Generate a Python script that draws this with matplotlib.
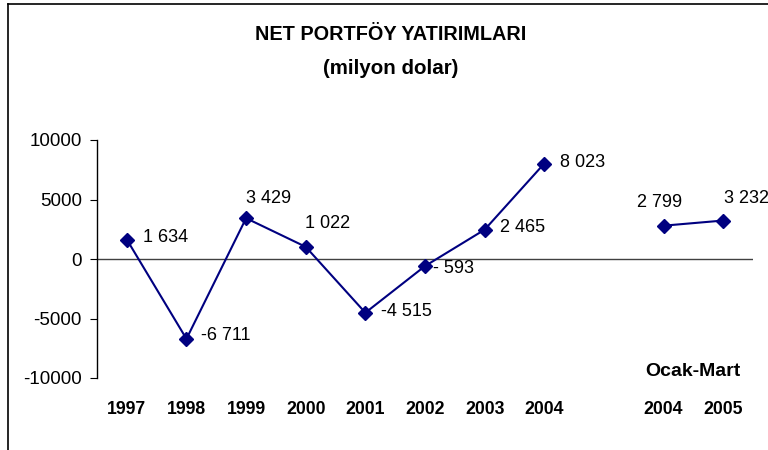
import matplotlib
matplotlib.use("Agg")
import matplotlib.pyplot as plt
from matplotlib.lines import Line2D

plt.rcParams['font.family'] = ['Liberation Sans', 'DejaVu Sans']
plt.rcParams['axes.unicode_minus'] = False

# Données (milyon dolar)
yillar = ["1997", "1998", "1999", "2000", "2001", "2002", "2003", "2004"]
yillik_deger = [1634, -6711, 3429, 1022, -4515, -593, 2465, 8023]
ceyrek_yillar = ["2004", "2005"]
ceyrek_deger = [2799, 3232]
yillik_etiket = ["1 634", "-6 711", "3 429", "1 022", "-4 515", "- 593", "2 465", "8 023"]
ceyrek_etiket = ["2 799", "3 232"]

# offsets of labels in pixels (dx, dy, ha)
yillik_ofset = [(16, 2, "left"), (15, 3, "left"), (0, 20, "left"), (-1, 23, "left"),
                (16, 1, "left"), (8, -2, "left"), (15, 2, "left"), (16, 1, "left")]
ceyrek_ofset = [(-4, 23, "center"), (1, 22, "left")]

renk = "#000080"

fig = plt.figure(figsize=(7.68, 4.5), dpi=100)
ax = fig.add_axes([97 / 768, 1 - 378 / 450, 656 / 768, 238 / 450])

x1 = list(range(len(yillik_deger)))
x2 = [len(yillik_deger) + 1 + i for i in range(len(ceyrek_deger))]

ax.plot(x1, yillik_deger, color=renk, lw=1.5, marker="D", markersize=7, zorder=3)
ax.plot(x2, ceyrek_deger, color=renk, lw=1.5, marker="D", markersize=7, zorder=3)

for xi, yi, lab, (dx, dy, ha) in zip(x1 + x2, yillik_deger + ceyrek_deger,
                                     yillik_etiket + ceyrek_etiket, yillik_ofset + ceyrek_ofset):
    ax.annotate(lab, (xi, yi), xytext=(dx, dy), textcoords="offset pixels",
                ha=ha, va="center", fontsize=13, color="black")

ax.axhline(0, color="#404040", lw=1, zorder=1)
ax.set_xlim(-0.5, 10.5)
ax.set_ylim(-10000, 10000)
ax.set_yticks([-10000, -5000, 0, 5000, 10000])
ax.tick_params(axis="y", direction="out", length=5, labelsize=13.5, pad=6)
ax.set_xticks([])
for s in ["top", "right", "bottom"]:
    ax.spines[s].set_visible(False)
ax.spines["left"].set_linewidth(1)

trans = ax.get_xaxis_transform()
for xi, lab in zip(x1 + x2, yillar + ceyrek_yillar):
    ax.text(xi, -32 / 238, lab, transform=trans, ha="center", va="center",
            fontsize=12.7, fontweight="bold")
ax.text((x2[0] + x2[1]) / 2, 6 / 238, "Ocak-Mart", transform=trans, ha="center",
        va="center", fontsize=14, fontweight="bold")

fig.text(391 / 768, 1 - 35 / 450, "NET PORTFÖY YATIRIMLARI", ha="center", va="center",
         fontsize=14.3, fontweight="bold")
fig.text(391 / 768, 1 - 68 / 450, "(milyon dolar)", ha="center", va="center",
         fontsize=14.8, fontweight="bold")

# frame of the chart area
fig.add_artist(Line2D([8 / 768, 1], [1 - 4 / 450, 1 - 4 / 450], color="black", lw=1.2))
fig.add_artist(Line2D([8 / 768, 8 / 768], [0, 1 - 4 / 450], color="black", lw=1.2))

fig.savefig("out.png", dpi=100)
